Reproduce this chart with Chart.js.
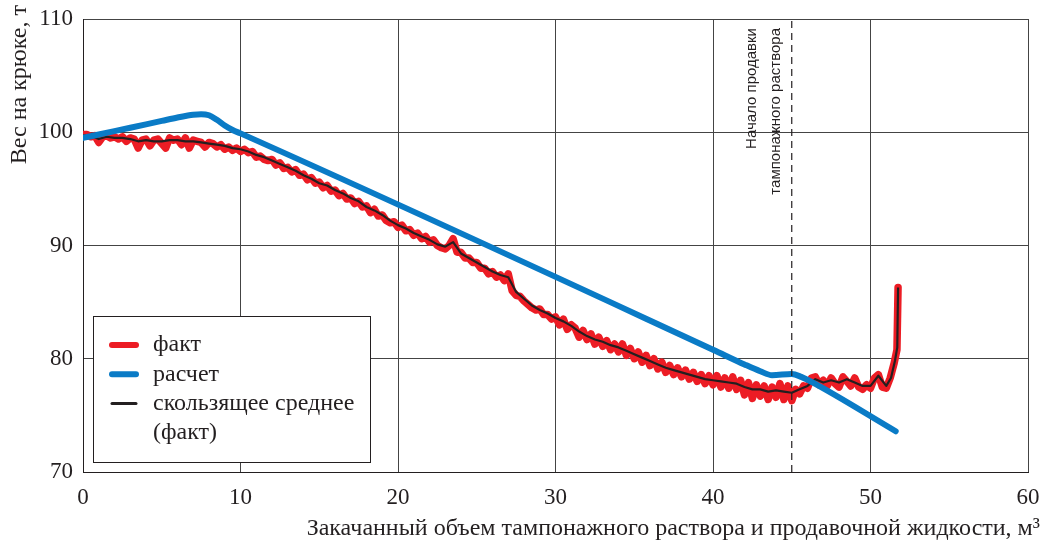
<!DOCTYPE html>
<html><head><meta charset="utf-8">
<script src="https://cdn.jsdelivr.net/npm/chart.js@4/dist/chart.umd.min.js"></script>
<style>html,body{margin:0;padding:0;background:#fff;}#wrap{width:1044px;height:544px;}</style>
</head><body><div id="wrap"><canvas id="c" width="1044" height="544"></canvas></div>
<script>
// Данные (м³, т)
const factX = [0,0.25,0.5,0.75,1,1.25,1.5,1.75,2,2.25,2.5,2.75,3,3.25,3.5,3.75,4,4.25,4.5,4.75,5,5.25,5.5,5.75,6,6.25,6.5,6.75,7,7.25,7.5,7.75,8,8.25,8.5,8.75,9,9.25,9.5,9.75,10,
10.25,10.5,10.75,11,11.25,11.5,11.75,12,12.25,12.5,12.75,13,13.25,13.5,13.75,14,14.25,14.5,14.75,15,15.25,15.5,15.75,16,16.25,16.5,16.75,17,17.25,17.5,17.75,18,18.25,18.5,18.75,19,19.25,19.5,19.75,20,
20.25,20.5,20.75,21,21.25,21.5,21.75,22,22.25,22.5,22.75,23,23.25,23.5,23.75,24,24.25,24.5,24.75,25,25.25,25.5,25.75,26,26.25,26.5,26.75,27,27.25,27.5,27.75,28,28.25,28.5,28.75,29,29.25,29.5,29.75,30,
30.25,30.5,30.75,31,31.25,31.5,31.75,32,32.25,32.5,32.75,33,33.25,33.5,33.75,34,34.25,34.5,34.75,35,35.25,35.5,35.75,36,36.25,36.5,36.75,37,37.25,37.5,37.75,38,38.25,38.5,38.75,39,39.25,39.5,39.75,40,
40.25,40.5,40.75,41,41.25,41.5,41.75,42,42.25,42.5,42.75,43,43.25,43.5,43.75,44,44.25,44.5,44.75,45,
45.25,45.5,45.75,46,46.25,46.5,46.75,47,47.25,47.5,47.75,48,48.25,48.5,48.75,49,49.25,49.5,49.75,50,50.25,50.5,50.75,51,51.25,51.5,51.68,51.75];
const factY = [99.8,99.8,99.6,99.7,99.1,99.6,99.7,99.5,99.6,99.4,99.6,99.2,99.5,99.4,98.6,99.3,99.4,98.8,99.3,99.4,99.0,98.6,99.5,99.3,99.4,98.9,99.5,98.6,99.3,99.2,99.1,98.7,99.1,99.0,98.7,98.9,98.5,98.7,98.4,98.6,98.3,
98.5,98.2,98.3,97.8,97.9,97.6,97.5,97.6,97.1,97.3,96.8,96.9,96.5,96.7,96.2,96.3,95.8,96.0,95.5,95.6,95.1,95.3,94.8,94.9,94.4,94.6,94.1,94.2,93.7,93.9,93.4,93.5,92.9,93.2,92.6,92.7,92.2,92.0,92.1,91.6,
91.8,91.3,91.4,90.9,91.1,90.6,90.8,90.3,90.5,90.0,89.8,89.7,90.0,90.6,89.4,89.4,88.9,88.9,88.5,88.5,88.0,88.0,87.5,87.7,87.2,87.4,86.9,87.5,86.0,85.6,85.5,85.1,84.8,84.5,84.3,84.4,83.9,83.9,83.5,83.7,
83.0,83.5,82.6,83.0,82.7,81.9,82.5,81.7,82.2,81.3,81.9,81.1,81.6,80.8,81.3,80.6,81.3,80.3,80.9,80.0,80.6,79.7,80.3,79.4,80.0,79.1,79.7,78.8,79.4,78.6,79.2,78.4,79.0,78.2,78.8,78.0,78.6,77.8,78.5,77.7,
78.5,77.5,78.3,77.4,78.4,77.3,78.1,76.8,77.9,76.5,77.7,76.7,77.6,76.4,77.5,76.6,77.8,76.4,77.6,76.3,
77.3,76.9,77.6,77.4,78.3,78.4,77.7,78.1,77.6,78.3,77.8,77.5,78.4,78.0,77.6,78.3,77.5,77.3,77.7,77.4,78.3,78.6,77.5,77.4,78.3,79.6,80.8,86.3];

const avgX = [0,0.5,1,1.5,2,2.5,3,3.5,4,4.5,5,5.5,6,6.5,7,7.5,8,8.5,9,9.5,10,10.5,11,11.5,12,12.5,13,13.5,14,14.5,15,15.5,16,16.5,17,17.5,18,18.5,19,19.5,20,
20.5,21,21.5,22,22.5,23,23.5,24,24.5,25,25.5,26,26.5,27,27.5,28,28.5,29,29.5,30,30.5,31,31.5,32,32.5,33,33.5,34,34.5,35,35.5,36,36.5,37,37.5,38,38.5,39,39.5,40,
40.5,41,41.5,42,42.5,43,43.5,44,44.5,45,45.5,46,46.5,47,47.5,48,48.5,49,49.5,50,50.5,51,51.3,51.55,51.7,51.75];
const avgY = [99.7,99.7,99.4,99.6,99.5,99.5,99.4,99.2,99.3,99.2,99.2,99.3,99.3,99.2,99.2,99.1,99.0,98.9,98.8,98.6,98.5,98.3,98.0,97.8,97.5,97.2,96.9,96.6,96.2,95.9,95.5,95.3,94.9,94.6,94.2,93.9,93.4,93.1,92.7,92.2,91.8,
91.5,91.1,90.8,90.5,90.1,89.9,90.3,89.3,88.9,88.5,88.1,87.7,87.4,87.2,85.9,85.3,84.7,84.3,84.0,83.6,83.3,82.9,82.4,82.0,81.7,81.5,81.2,81.0,80.7,80.4,80.1,79.8,79.5,79.2,79.0,78.8,78.6,78.4,78.2,78.1,
78.0,77.9,77.8,77.5,77.3,77.3,77.1,77.2,77.1,77.0,77.3,77.6,78.2,77.9,78.1,77.9,78.2,77.9,77.6,77.6,78.5,77.6,78.3,79.8,81.0,86.3];

const calcX = [0,1,2,3,4,5,6,7,7.5,8,8.5,9,9.5,10,40,42,43,43.75,45,45.6,46.2,51.6];
const calcY = [99.5,99.8,100.1,100.4,100.7,101.0,101.3,101.55,101.6,101.5,101.1,100.6,100.2,99.9,80.8,79.5,78.9,78.55,78.65,78.4,78.0,73.6];

const markerX = [45,45];
const markerY = [70,110];

const xTicks = [0,10,20,30,40,50,60];
const yTicks = [70,80,90,100,110];

const seriesLabels = ['факт','расчет','скользящее среднее','(факт)'];
const markerText = ['Начало продавки','тампонажного раствора'];
const xTitle = 'Закачанный объем тампонажного раствора и продавочной жидкости, м³';
const yTitle = 'Вес на крюке, т';

const RED = '#ec1c24', BLUE = '#0a7bc6', BLACK = '#231f20';
const pts = (xs, ys) => xs.map((x, i) => ({x: x, y: ys[i]}));
const SERIF = '"Liberation Serif","Times New Roman",serif';

const legendPlugin = {
  id: 'boxLegend',
  afterDatasetsDraw(chart) {
    const {ctx, chartArea} = chart;
    const bx = chartArea.left + 10, bw = 277, bh = 146, by = chartArea.bottom - 10 - bh;
    ctx.save();
    ctx.fillStyle = '#fff';
    ctx.fillRect(bx, by, bw, bh);
    ctx.strokeStyle = '#231f20';
    ctx.lineWidth = 1;
    ctx.strokeRect(bx + 0.5, by + 0.5, bw, bh);
    const rows = [
      {c: RED, w: 6, t: seriesLabels[0]},
      {c: BLUE, w: 6, t: seriesLabels[1]},
      {c: BLACK, w: 3, t: seriesLabels[2]},
      {c: null, w: 0, t: seriesLabels[3]}
    ];
    ctx.font = '24px ' + SERIF;
    ctx.textBaseline = 'middle';
    ctx.textAlign = 'left';
    rows.forEach((r, i) => {
      const y = by + 29 + i * 29.3;
      if (r.c) {
        ctx.strokeStyle = r.c; ctx.lineWidth = r.w; ctx.lineCap = 'round';
        ctx.beginPath(); ctx.moveTo(bx + 19, y); ctx.lineTo(bx + 43, y); ctx.stroke();
      }
      ctx.fillStyle = BLACK;
      ctx.fillText(r.t, bx + 60, y);
    });
    ctx.restore();
  }
};

const textPlugin = {
  id: 'texts',
  afterDatasetsDraw(chart) {
    const {ctx, chartArea, scales} = chart;
    const px = scales.x.getPixelForValue(markerX[0]);
    ctx.save();
    ctx.font = '15px "Liberation Sans", Arial, sans-serif';
    ctx.fillStyle = BLACK;
    ctx.textAlign = 'right';
    ctx.textBaseline = 'middle';
    markerText.forEach((t, i) => {
      ctx.save();
      ctx.translate(px - 40 + i * 24, chartArea.top + 9);
      ctx.rotate(-Math.PI / 2);
      ctx.fillText(t, 0, 0);
      ctx.restore();
    });
    // axis titles
    ctx.font = '24px ' + SERIF;
    ctx.textAlign = 'right';
    ctx.textBaseline = 'alphabetic';
    ctx.fillText(xTitle, chartArea.right + 12, 535);
    ctx.save();
    ctx.translate(26, chartArea.top - 14);
    ctx.rotate(-Math.PI / 2);
    ctx.fillText(yTitle, 0, 0);
    ctx.restore();
    ctx.restore();
  }
};

new Chart(document.getElementById('c'), {
  type: 'line',
  data: {
    datasets: [
      {label: 'marker', data: pts(markerX, markerY), borderColor: BLACK, borderWidth: 1.2, borderDash: [7, 5], pointRadius: 0, order: 0},
      {label: seriesLabels[1], data: pts(calcX, calcY), borderColor: BLUE, borderWidth: 6, pointRadius: 0, cubicInterpolationMode: 'monotone', borderCapStyle: 'round', order: 1},
      {label: seriesLabels[2], data: pts(avgX, avgY), borderColor: BLACK, borderWidth: 2.2, pointRadius: 0, borderJoinStyle: 'round', order: 2},
      {label: seriesLabels[0], data: pts(factX, factY), borderColor: RED, borderWidth: 7.5, pointRadius: 0, borderJoinStyle: 'round', borderCapStyle: 'round', order: 3}
    ]
  },
  options: {
    responsive: false,
    animation: false,
    layout: {padding: {top: 19, right: 16, left: 0, bottom: 0}},
    plugins: {legend: {display: false}, tooltip: {enabled: false}},
    scales: {
      x: {
        type: 'linear', min: 0, max: 60,
        afterBuildTicks: s => { s.ticks = xTicks.map(v => ({value: v})); },
        afterFit: s => { s.height = 72; s.paddingLeft = 0; s.paddingRight = 0; },
        grid: {color: '#444', lineWidth: 1, drawTicks: false},
        border: {color: '#231f20', width: 1},
        ticks: {padding: 12, color: BLACK, font: {family: SERIF, size: 23}, maxRotation: 0},
        title: {display: false, text: xTitle}
      },
      y: {
        type: 'linear', min: 70, max: 110,
        afterBuildTicks: s => { s.ticks = yTicks.map(v => ({value: v})); },
        afterFit: s => { s.width = 83; s.paddingTop = 0; s.paddingBottom = 0; },
        grid: {color: '#444', lineWidth: 1, drawTicks: false},
        border: {color: '#231f20', width: 1},
        ticks: {padding: 10, color: BLACK, font: {family: SERIF, size: 23}},
        title: {display: false, text: yTitle}
      }
    }
  },
  plugins: [textPlugin, legendPlugin]
});
</script></body></html>
